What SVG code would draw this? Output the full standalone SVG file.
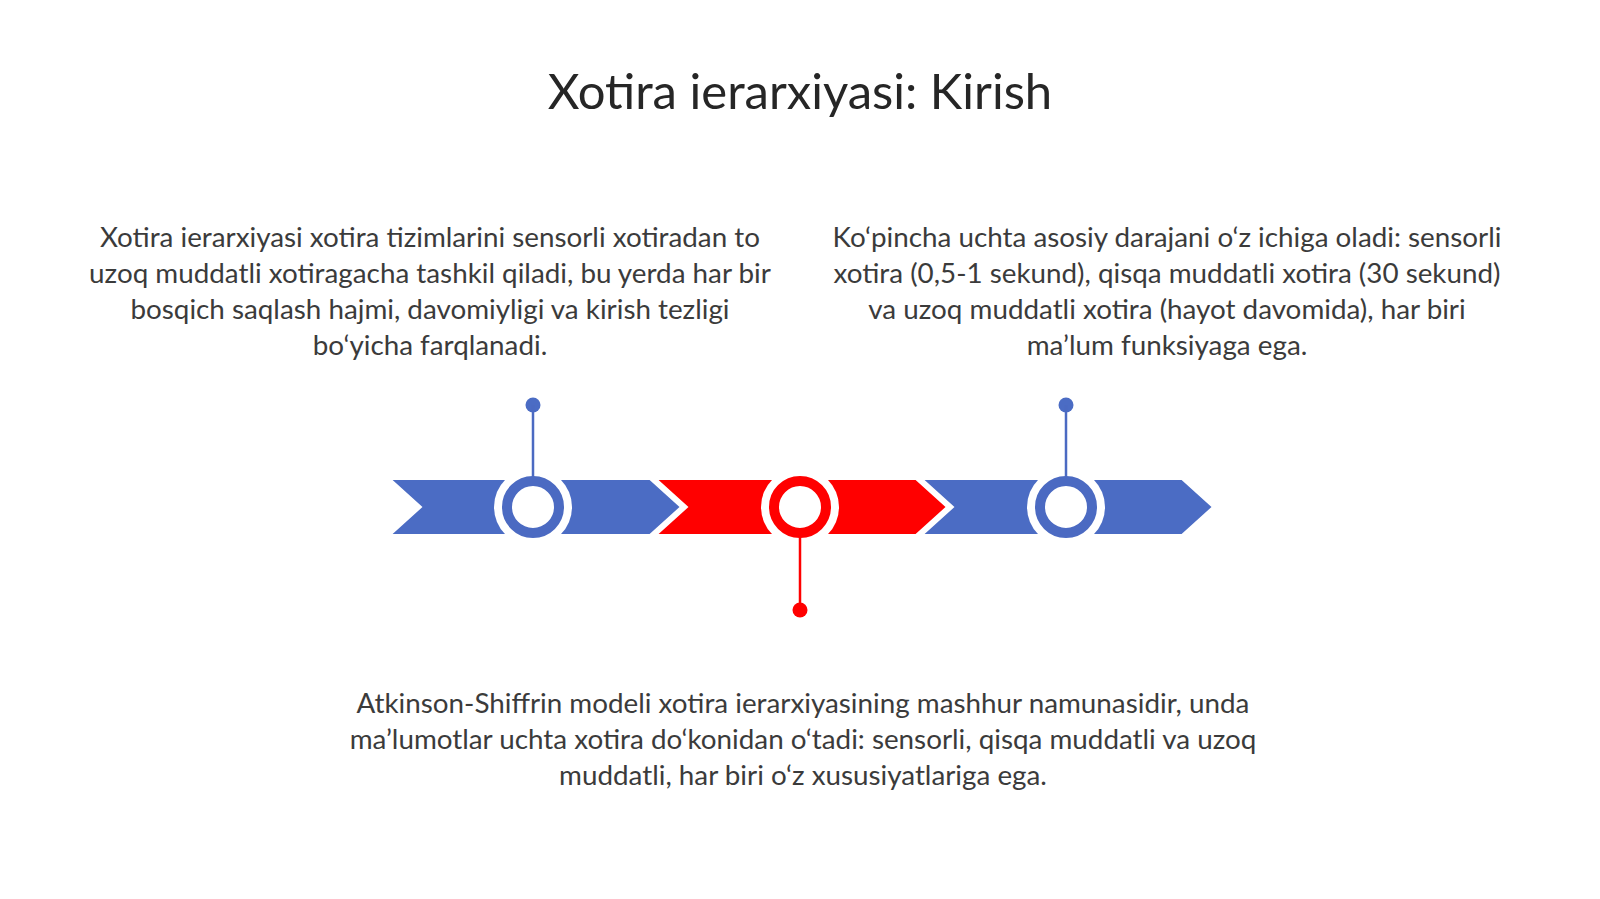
<svg xmlns="http://www.w3.org/2000/svg" width="1600" height="899" viewBox="0 0 1600 899">
<style>
.title{font-family:Lato,"Open Sans",sans-serif;font-size:49px;fill:#262626;text-anchor:middle}
.body{font-family:Lato,"Open Sans",sans-serif;font-size:27.8px;fill:#3b3b3b;text-anchor:middle}
.blue{fill:#4B6CC4}
.red{fill:#FF0000}
.chev{stroke:#fff;stroke-width:2;stroke-linejoin:miter}
.halo{fill:#fff}
.ringB{fill:#fff;stroke:#4B6AC2;stroke-width:10}
.ringR{fill:#fff;stroke:#FF0000;stroke-width:10}
.stemB{stroke:#4B6AC2;stroke-width:2.5}
.stemR{stroke:#FF0000;stroke-width:2.5}
</style>
<rect width="1600" height="899" fill="#fff"/>
<g id="title"><text class="title" x="800" y="109">Xotira ierarxiyasi: Kirish</text></g>

<g id="text-left">
<text class="body" x="430" y="247">Xotira ierarxiyasi xotira tizimlarini sensorli xotiradan to</text>
<text class="body" x="430" y="283">uzoq muddatli xotiragacha tashkil qiladi, bu yerda har bir</text>
<text class="body" x="430" y="319">bosqich saqlash hajmi, davomiyligi va kirish tezligi</text>
<text class="body" x="430" y="355">bo‘yicha farqlanadi.</text>
</g>
<g id="text-right">
<text class="body" x="1167" y="247">Ko‘pincha uchta asosiy darajani o‘z ichiga oladi: sensorli</text>
<text class="body" x="1167" y="283">xotira (0,5-1 sekund), qisqa muddatli xotira (30 sekund)</text>
<text class="body" x="1167" y="319">va uzoq muddatli xotira (hayot davomida), har biri</text>
<text class="body" x="1167" y="355">ma’lum funksiyaga ega.</text>
</g>
<g id="text-bottom">
<text class="body" x="803" y="713">Atkinson-Shiffrin modeli xotira ierarxiyasining mashhur namunasidir, unda</text>
<text class="body" x="803" y="749">ma’lumotlar uchta xotira do‘konidan o‘tadi: sensorli, qisqa muddatli va uzoq</text>
<text class="body" x="803" y="785">muddatli, har biri o‘z xususiyatlariga ega.</text>
</g>

<g id="chevron-1"><polygon class="blue chev" points="390,479 650,479 681,507 650,535 390,535 421,507"/></g>
<g id="chevron-2"><polygon class="red chev" points="656,479 916,479 947,507 916,535 656,535 687,507"/></g>
<g id="chevron-3"><polygon class="blue chev" points="922,479 1182,479 1213,507 1182,535 922,535 953,507"/></g>

<g id="node-1">
<circle class="halo" cx="533" cy="507" r="39"/>
<circle class="ringB" cx="533" cy="507" r="26"/>
<circle class="blue" cx="533" cy="405" r="7.5"/>
</g>
<g id="node-2">
<circle class="halo" cx="800" cy="507" r="39"/>
<circle class="ringR" cx="800" cy="507" r="26"/>
<circle class="red" cx="800" cy="610" r="7.5"/>
</g>
<g id="node-3">
<circle class="halo" cx="1066" cy="507" r="39"/>
<circle class="ringB" cx="1066" cy="507" r="26"/>
<circle class="blue" cx="1066" cy="405" r="7.5"/>
</g>

<g id="connectors">
<line class="stemB" x1="533" y1="405" x2="533" y2="477"/>
<line class="stemR" x1="800" y1="537" x2="800" y2="610"/>
<line class="stemB" x1="1066" y1="405" x2="1066" y2="477"/>
</g>
</svg>
